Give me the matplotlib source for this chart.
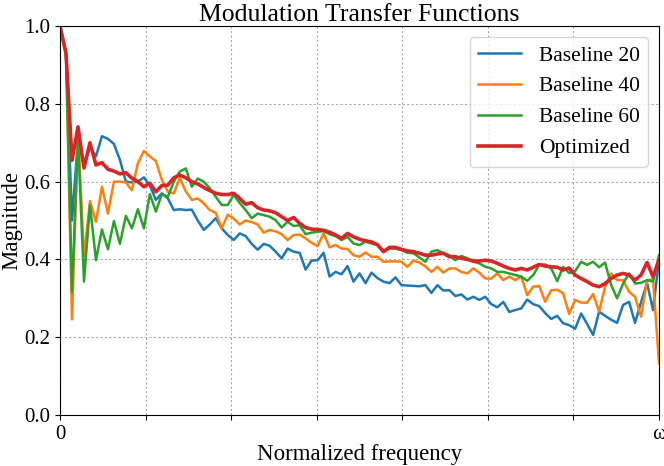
import numpy as np
import matplotlib
matplotlib.use('Agg')
import matplotlib.pyplot as plt

# --- values (101 samples, 0 .. omega) ---
baseline_20 = [
    1.0, 0.93, 0.50, 0.71, 0.64, 0.69, 0.665, 0.717, 0.71, 0.697,
    0.656, 0.60, 0.598, 0.60, 0.611, 0.59, 0.553, 0.57, 0.557, 0.527,
    0.529, 0.527, 0.528, 0.50, 0.476, 0.49, 0.506, 0.48, 0.463, 0.45,
    0.467, 0.46, 0.44, 0.425, 0.44, 0.435, 0.42, 0.403, 0.428, 0.42,
    0.417, 0.374, 0.397, 0.398, 0.417, 0.356, 0.368, 0.362, 0.383, 0.343,
    0.364, 0.339, 0.366, 0.352, 0.343, 0.339, 0.354, 0.334, 0.333, 0.332,
    0.331, 0.334, 0.314, 0.334, 0.32, 0.321, 0.306, 0.31, 0.297, 0.304,
    0.296, 0.304, 0.285, 0.277, 0.291, 0.265, 0.27, 0.274, 0.297, 0.285,
    0.28, 0.262, 0.247, 0.255, 0.236, 0.231, 0.222, 0.261, 0.234, 0.206,
    0.266, 0.255, 0.245, 0.237, 0.283, 0.291, 0.237, 0.29, 0.34, 0.27,
    0.398,
]

baseline_40 = [
    1.0, 0.93, 0.246, 0.73, 0.407, 0.55, 0.497, 0.587, 0.518, 0.60,
    0.60, 0.598, 0.578, 0.647, 0.679, 0.665, 0.653, 0.605, 0.574, 0.57,
    0.61, 0.575, 0.553, 0.557, 0.544, 0.527, 0.52, 0.48, 0.515, 0.505,
    0.49, 0.50, 0.496, 0.49, 0.469, 0.476, 0.472, 0.465, 0.45, 0.463,
    0.464, 0.454, 0.443, 0.434, 0.467, 0.431, 0.437, 0.428, 0.427, 0.411,
    0.407, 0.418, 0.407, 0.407, 0.394, 0.395, 0.395, 0.394, 0.381, 0.397,
    0.392, 0.382, 0.368, 0.381, 0.366, 0.377, 0.377, 0.368, 0.364, 0.377,
    0.366, 0.351, 0.351, 0.364, 0.347, 0.356, 0.347, 0.356, 0.308, 0.33,
    0.332, 0.291, 0.321, 0.322, 0.313, 0.26, 0.296, 0.289, 0.289, 0.311,
    0.266, 0.33, 0.364, 0.347, 0.347, 0.317, 0.304, 0.253, 0.345, 0.35,
    0.133,
]

baseline_60 = [
    1.0, 0.93, 0.317, 0.711, 0.343, 0.54, 0.398, 0.477, 0.426, 0.499,
    0.44, 0.512, 0.48, 0.529, 0.48, 0.568, 0.523, 0.568, 0.561, 0.60,
    0.626, 0.634, 0.587, 0.608, 0.60, 0.583, 0.561, 0.54, 0.54, 0.566,
    0.545, 0.527, 0.506, 0.518, 0.514, 0.51, 0.501, 0.482, 0.497, 0.486,
    0.488, 0.465, 0.469, 0.471, 0.473, 0.465, 0.46, 0.45, 0.458, 0.441,
    0.437, 0.446, 0.441, 0.437, 0.42, 0.428, 0.428, 0.424, 0.417, 0.416,
    0.405, 0.394, 0.42, 0.424, 0.416, 0.411, 0.398, 0.409, 0.403, 0.394,
    0.39, 0.381, 0.377, 0.368, 0.368, 0.364, 0.36, 0.356, 0.345, 0.36,
    0.386, 0.387, 0.377, 0.344, 0.381, 0.365, 0.37, 0.394, 0.386, 0.394,
    0.38, 0.392, 0.335, 0.30, 0.338, 0.364, 0.338, 0.34, 0.347, 0.343,
    0.411,
]

optimized = [
    1.0, 0.93, 0.655, 0.741, 0.635, 0.70, 0.643, 0.649, 0.632, 0.627,
    0.62, 0.623, 0.609, 0.60, 0.587, 0.596, 0.574, 0.59, 0.591, 0.61,
    0.617, 0.61, 0.60, 0.594, 0.585, 0.577, 0.57, 0.567, 0.567, 0.57,
    0.557, 0.542, 0.546, 0.533, 0.527, 0.525, 0.52, 0.51, 0.50, 0.508,
    0.493, 0.482, 0.478, 0.477, 0.475, 0.47, 0.463, 0.454, 0.467, 0.458,
    0.452, 0.448, 0.445, 0.438, 0.42, 0.431, 0.431, 0.426, 0.422, 0.42,
    0.416, 0.411, 0.411, 0.414, 0.416, 0.407, 0.407, 0.403, 0.40, 0.396,
    0.396, 0.398, 0.396, 0.39, 0.383, 0.377, 0.373, 0.377, 0.373, 0.38,
    0.387, 0.383, 0.381, 0.38, 0.373, 0.378, 0.36, 0.351, 0.343, 0.334,
    0.33, 0.338, 0.351, 0.36, 0.364, 0.36, 0.347, 0.36, 0.392, 0.356,
    0.398,
]

series_labels = ['Baseline 20', 'Baseline 40', 'Baseline 60', 'Optimized']
x_tick_labels = ['0', '', '', '', '', '', '', 'ω']

plt.rcParams['font.family'] = 'serif'
plt.rcParams['font.serif'] = ['Liberation Serif', 'DejaVu Serif']

freq = np.arange(len(optimized))

fig, ax = plt.subplots(figsize=(6.64, 4.66), dpi=100)
fig.subplots_adjust(left=0.0904, right=0.9925, top=0.944, bottom=0.1094)

ax.plot(freq, baseline_20, color='tab:blue', linewidth=1.8, label=series_labels[0])
ax.plot(freq, baseline_40, color='tab:orange', linewidth=1.8, label=series_labels[1])
ax.plot(freq, baseline_60, color='tab:green', linewidth=1.8, label=series_labels[2])
ax.plot(freq, optimized, color='tab:red', linewidth=2.6, label=series_labels[3])

ax.set_xlim(0, freq[-1])
ax.set_ylim(0, 1.0)
ax.set_xticks(np.linspace(0, freq[-1], len(x_tick_labels)))
ax.set_xticklabels(x_tick_labels)
ax.set_yticks([0.0, 0.2, 0.4, 0.6, 0.8, 1.0])
ax.tick_params(labelsize=15)

ax.set_title('Modulation Transfer Functions', fontsize=18.5, pad=3)
ax.set_xlabel('Normalized frequency', fontsize=16.5, labelpad=0)
ax.set_ylabel('Magnitude', fontsize=16.5, labelpad=1)
ax.grid(True, color='#aaaaaa', linestyle=(0, (2, 2)), linewidth=0.8)
ax.legend(loc='upper right', fontsize=15.5)

plt.savefig('out.png')
